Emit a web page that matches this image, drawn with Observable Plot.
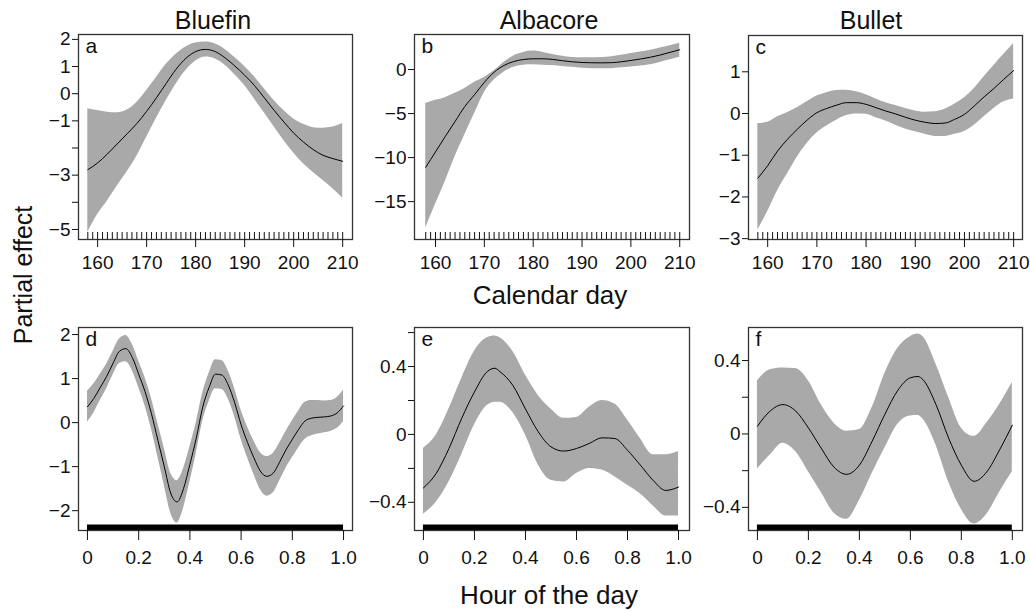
<!DOCTYPE html>
<html>
<head>
<meta charset="utf-8">
<script src="https://cdn.jsdelivr.net/npm/d3@7"></script>
<script src="https://cdn.jsdelivr.net/npm/@observablehq/plot@0.6"></script>
<style>
  body { margin: 0; background: #fff; }
  #chart { position: relative; width: 1030px; height: 612px; overflow: hidden; background: #fff;
           font-family: "Liberation Sans", Arial, Helvetica, sans-serif; color: #111; }
  .lbl { position: absolute; transform: translate(-50%, -50%); white-space: nowrap; font-size: 25px; line-height: 1; }
  .panel { position: absolute; }
  .panel text { font-size: 19px !important; font-family: "Liberation Sans", Arial, Helvetica, sans-serif !important; }
  .panel .letter text { font-size: 21px !important; }
</style>
</head>
<body>
<div id="chart">
  <div class="lbl" style="left:213px;top:20px">Bluefin</div>
  <div class="lbl" style="left:549px;top:20px">Albacore</div>
  <div class="lbl" style="left:871px;top:20px">Bullet</div>
  <div class="lbl" style="left:550px;top:295px;font-size:26px">Calendar day</div>
  <div class="lbl" style="left:549px;top:595px;font-size:26px">Hour of the day</div>
  <div class="lbl" style="left:23px;top:275px;transform:translate(-50%,-50%) rotate(-90deg)">Partial effect</div>
</div>
<script>
// ---------- Data ----------
const dayGrid = [158,160,162,164,166,168,170,172,174,176,178,180,182,184,186,188,190,192,194,196,198,200,202,204,206,208,210];
const rugDays = [158,159,160,161,162,163,164,165,166,167,168,169,170,171,172,173,174,175,176,177,178,179,180,181,182,183,184,185,186,187,188,189,190,191,192,193,194,195,196,197,198,199,200,201,202,203,204,205,206,207,208,209,210];

const bluefinDayFit   = [-2.80,-2.55,-2.22,-1.85,-1.48,-1.10,-0.65,-0.15,0.38,0.90,1.30,1.55,1.63,1.55,1.32,1.02,0.68,0.30,-0.15,-0.61,-1.04,-1.45,-1.78,-2.06,-2.27,-2.39,-2.49];
const bluefinDayUpper = [-0.55,-0.62,-0.68,-0.70,-0.60,-0.32,0.12,0.60,1.08,1.45,1.72,1.87,1.90,1.83,1.63,1.33,1.00,0.62,0.18,-0.25,-0.62,-0.93,-1.13,-1.25,-1.27,-1.23,-1.10];
const bluefinDayLower = [-5.10,-4.45,-3.95,-3.40,-2.88,-2.30,-1.60,-0.90,-0.25,0.35,0.85,1.20,1.35,1.28,1.05,0.70,0.30,-0.20,-0.70,-1.22,-1.72,-2.18,-2.58,-2.90,-3.20,-3.50,-3.85];

const albacoreDayFit   = [-11.1,-9.35,-7.6,-5.9,-4.2,-2.85,-1.45,-0.3,0.46,0.91,1.14,1.22,1.22,1.15,1.0,0.88,0.8,0.77,0.76,0.78,0.88,1.03,1.2,1.4,1.65,1.95,2.25];
const albacoreDayUpper = [-3.85,-3.5,-3.2,-2.7,-2.15,-1.45,-0.9,-0.15,0.8,1.55,1.95,2.1,1.95,1.7,1.5,1.38,1.35,1.35,1.38,1.45,1.62,1.82,2.0,2.2,2.45,2.7,3.0];
const albacoreDayLower = [-18.0,-15.3,-12.7,-9.9,-7.4,-5.0,-2.6,-1.2,-0.3,0.25,0.5,0.55,0.5,0.45,0.35,0.25,0.15,0.1,0.08,0.1,0.2,0.3,0.4,0.55,0.8,1.1,1.4];

const bulletDayFit   = [-1.55,-1.25,-0.90,-0.62,-0.38,-0.16,0.02,0.12,0.20,0.26,0.26,0.22,0.14,0.06,-0.01,-0.09,-0.16,-0.21,-0.24,-0.23,-0.14,-0.02,0.18,0.40,0.60,0.82,1.03];
const bulletDayUpper = [-0.24,-0.21,-0.08,0.02,0.14,0.28,0.42,0.50,0.55,0.56,0.52,0.45,0.35,0.26,0.19,0.12,0.06,0.03,0.04,0.10,0.22,0.38,0.60,0.88,1.15,1.42,1.68];
const bulletDayLower = [-2.80,-2.35,-1.85,-1.45,-1.05,-0.72,-0.47,-0.30,-0.16,-0.05,-0.01,-0.02,-0.10,-0.18,-0.28,-0.37,-0.44,-0.50,-0.55,-0.55,-0.50,-0.43,-0.28,-0.08,0.12,0.28,0.35];

const hourGridD = [0,0.025,0.05,0.075,0.1,0.125,0.15,0.175,0.2,0.225,0.25,0.275,0.3,0.325,0.35,0.375,0.4,0.425,0.45,0.475,0.5,0.525,0.55,0.575,0.6,0.625,0.65,0.675,0.7,0.725,0.75,0.775,0.8,0.825,0.85,0.875,0.9,0.925,0.95,0.975,1.0];
const bluefinHourFit   = [0.36,0.55,0.80,1.05,1.35,1.62,1.68,1.48,1.10,0.70,0.20,-0.40,-1.00,-1.60,-1.80,-1.50,-0.95,-0.35,0.35,0.80,1.10,1.08,0.85,0.45,-0.05,-0.45,-0.80,-1.10,-1.22,-1.15,-0.90,-0.62,-0.38,-0.15,0.04,0.10,0.12,0.13,0.15,0.22,0.38];
const bluefinHourUpper = [0.71,0.88,1.10,1.33,1.62,1.90,1.98,1.78,1.40,1.02,0.55,-0.02,-0.58,-1.15,-1.32,-1.05,-0.55,0.00,0.67,1.12,1.43,1.41,1.17,0.77,0.28,-0.10,-0.42,-0.68,-0.77,-0.70,-0.47,-0.20,0.04,0.27,0.46,0.50,0.50,0.49,0.50,0.57,0.74];
const bluefinHourLower = [0.01,0.22,0.50,0.77,1.08,1.34,1.38,1.18,0.80,0.38,-0.15,-0.78,-1.42,-2.05,-2.28,-1.95,-1.35,-0.70,0.03,0.48,0.77,0.75,0.53,0.13,-0.38,-0.80,-1.18,-1.52,-1.67,-1.60,-1.33,-1.04,-0.80,-0.57,-0.38,-0.30,-0.26,-0.23,-0.20,-0.13,0.02];

const hourGridE = [0,0.05,0.1,0.15,0.2,0.25,0.28,0.3,0.35,0.4,0.45,0.5,0.55,0.6,0.65,0.7,0.75,0.8,0.85,0.9,0.95,1.0];
const albacoreHourFit   = [-0.315,-0.23,-0.083,0.095,0.25,0.37,0.39,0.37,0.29,0.15,0.016,-0.073,-0.098,-0.083,-0.053,-0.02,-0.024,-0.093,-0.18,-0.27,-0.33,-0.31];
const albacoreHourUpper = [-0.083,-0.004,0.15,0.33,0.49,0.57,0.58,0.57,0.49,0.35,0.23,0.15,0.095,0.10,0.16,0.20,0.18,0.085,-0.024,-0.12,-0.12,-0.10];
const albacoreHourLower = [-0.47,-0.40,-0.28,-0.12,0.055,0.17,0.19,0.19,0.13,-0.004,-0.18,-0.27,-0.28,-0.23,-0.20,-0.21,-0.25,-0.30,-0.35,-0.42,-0.48,-0.48];

const hourGridF = [0,0.05,0.1,0.15,0.2,0.25,0.3,0.35,0.4,0.45,0.5,0.55,0.6,0.63,0.65,0.7,0.75,0.8,0.85,0.9,0.95,1.0];
const bulletHourFit   = [0.042,0.125,0.16,0.125,0.033,-0.077,-0.18,-0.22,-0.17,-0.04,0.107,0.236,0.306,0.313,0.295,0.162,-0.022,-0.17,-0.258,-0.206,-0.087,0.048];
const bulletHourUpper = [0.29,0.35,0.36,0.356,0.29,0.16,0.06,0.015,0.024,0.144,0.33,0.466,0.53,0.544,0.53,0.383,0.2,0.033,-0.013,0.06,0.16,0.28];
const bulletHourLower = [-0.19,-0.115,-0.05,-0.096,-0.206,-0.317,-0.43,-0.465,-0.363,-0.216,-0.077,0.052,0.098,0.1,0.08,-0.059,-0.26,-0.41,-0.49,-0.437,-0.317,-0.206];

const hourRange = [0, 1];

const dayTicks = [160,170,180,190,200,210];
const hourTicks = [0,0.2,0.4,0.6,0.8,1.0];
const hourTickLabels = ["0","0.2","0.4","0.6","0.8","1.0"];

const yTicksA = [-5,-4,-3,-2,-1,0,1,2],            yLabelsA = [-5,-3,-1,0,1,2];
const yTicksB = [-15,-10,-5,0],                    yLabelsB = [-15,-10,-5,0];
const yTicksC = [-3,-2,-1,0,1],                    yLabelsC = [-3,-2,-1,0,1];
const yTicksD = [-2,-1,0,1,2],                     yLabelsD = [-2,-1,0,1,2];
const yTicksE = [-0.4,-0.2,0,0.2,0.4,0.6],         yLabelsE = [-0.4,0,0.4];
const yTicksF = [-0.4,-0.2,0,0.2,0.4],             yLabelsF = [-0.4,0,0.4];

// ---------- Drawing ----------
const FONT = "'Liberation Sans', Arial, Helvetica, sans-serif";
const fmt = d => (d < 0 ? "\u2212" : "") + String(Math.abs(d));
const ML = 70, MR = 6, MT = 10, MB = 50;

function panel(o) {
  const data = o.x.map((v, i) => ({x: v, fit: o.fit[i], lo: o.lower[i], hi: o.upper[i]}));
  const fw = o.frame[1] - o.frame[0], fh = o.frame[3] - o.frame[2];
  const marks = [
    Plot.areaY(data, {x: "x", y1: "lo", y2: "hi", fill: "#a9a9a9", curve: "monotone-x"}),
    Plot.line(data, {x: "x", y: "fit", stroke: "#000", strokeWidth: 1, curve: "monotone-x"})
  ];
  if (o.rug) {
    marks.push(Plot.ruleX(o.rug, {x: d => d, y1: o.yDomain[0], y2: o.yDomain[0], insetTop: -7, stroke: "#111", strokeWidth: 1}));
  }
  if (o.bar) {
    marks.push(Plot.ruleY([o.yDomain[0]], {x1: o.bar[0], x2: o.bar[1], stroke: "#000", strokeWidth: 6, dy: -3}));
  }
  marks.push(
    Plot.frame({stroke: "#333", strokeWidth: 1.3}),
    Plot.axisY(o.yTicks, {tickSize: 6, tickPadding: 2, label: null, fontSize: 19, fill: "#111",
      tickFormat: d => o.yLabels.includes(d) ? fmt(d) : ""}),
    Plot.axisX(o.xTicks, {tickSize: o.xTickSize, tickPadding: o.xPad, label: null, fontSize: 19, fill: "#111", tickFormat: o.xFormat}),
    Plot.text([o.letter], {frameAnchor: "top-left", dx: 7, dy: 4, fontSize: 21, text: d => d, fill: "#111", className: "letter"})
  );
  const svg = Plot.plot({
    width: fw + ML + MR,
    height: fh + MT + MB,
    marginLeft: ML, marginRight: MR, marginTop: MT, marginBottom: MB,
    x: {domain: o.xDomain, label: null},
    y: {domain: o.yDomain, label: null},
    style: {fontSize: "19px", fontFamily: FONT, color: "#111", background: "transparent", overflow: "visible"},
    marks
  });
  svg.classList.add("panel");
  svg.style.left = (o.frame[0] - ML) + "px";
  svg.style.top = (o.frame[2] - MT) + "px";
  document.getElementById("chart").appendChild(svg);
}

const dayFmt = d => String(d);
const hourFmt = d => hourTickLabels[hourTicks.indexOf(d)];

panel({x: dayGrid, fit: bluefinDayFit, upper: bluefinDayUpper, lower: bluefinDayLower,
  xDomain: [156.1, 212.0], yDomain: [-5.37, 2.18], yTicks: yTicksA, yLabels: yLabelsA,
  xTicks: dayTicks, xFormat: dayFmt, xTickSize: 8, xPad: 8, rug: rugDays, frame: [78, 352, 34, 239], letter: "a"});
panel({x: dayGrid, fit: albacoreDayFit, upper: albacoreDayUpper, lower: albacoreDayLower,
  xDomain: [155.7, 212.0], yDomain: [-19.3, 3.98], yTicks: yTicksB, yLabels: yLabelsB,
  xTicks: dayTicks, xFormat: dayFmt, xTickSize: 8, xPad: 8, rug: rugDays, frame: [414, 689, 34, 239], letter: "b"});
panel({x: dayGrid, fit: bulletDayFit, upper: bulletDayUpper, lower: bulletDayLower,
  xDomain: [156.1, 211.8], yDomain: [-3.02, 1.87], yTicks: yTicksC, yLabels: yLabelsC,
  xTicks: dayTicks, xFormat: dayFmt, xTickSize: 8, xPad: 8, rug: rugDays, frame: [748, 1022, 35, 239], letter: "c"});
panel({x: hourGridD, fit: bluefinHourFit, upper: bluefinHourUpper, lower: bluefinHourLower,
  xDomain: [-0.035, 1.035], yDomain: [-2.45, 2.16], yTicks: yTicksD, yLabels: yLabelsD,
  xTicks: hourTicks, xFormat: hourFmt, xTickSize: 10, xPad: 10, bar: hourRange, frame: [78, 352, 327, 530], letter: "d"});
panel({x: hourGridE, fit: albacoreHourFit, upper: albacoreHourUpper, lower: albacoreHourLower,
  xDomain: [-0.035, 1.043], yDomain: [-0.566, 0.63], yTicks: yTicksE, yLabels: yLabelsE,
  xTicks: hourTicks, xFormat: hourFmt, xTickSize: 10, xPad: 10, bar: hourRange, frame: [414, 689, 327, 530], letter: "e"});
panel({x: hourGridF, fit: bulletHourFit, upper: bulletHourUpper, lower: bulletHourLower,
  xDomain: [-0.035, 1.04], yDomain: [-0.526, 0.58], yTicks: yTicksF, yLabels: yLabelsF,
  xTicks: hourTicks, xFormat: hourFmt, xTickSize: 10, xPad: 10, bar: hourRange, frame: [748, 1022, 327, 530], letter: "f"});
</script>
</body>
</html>
